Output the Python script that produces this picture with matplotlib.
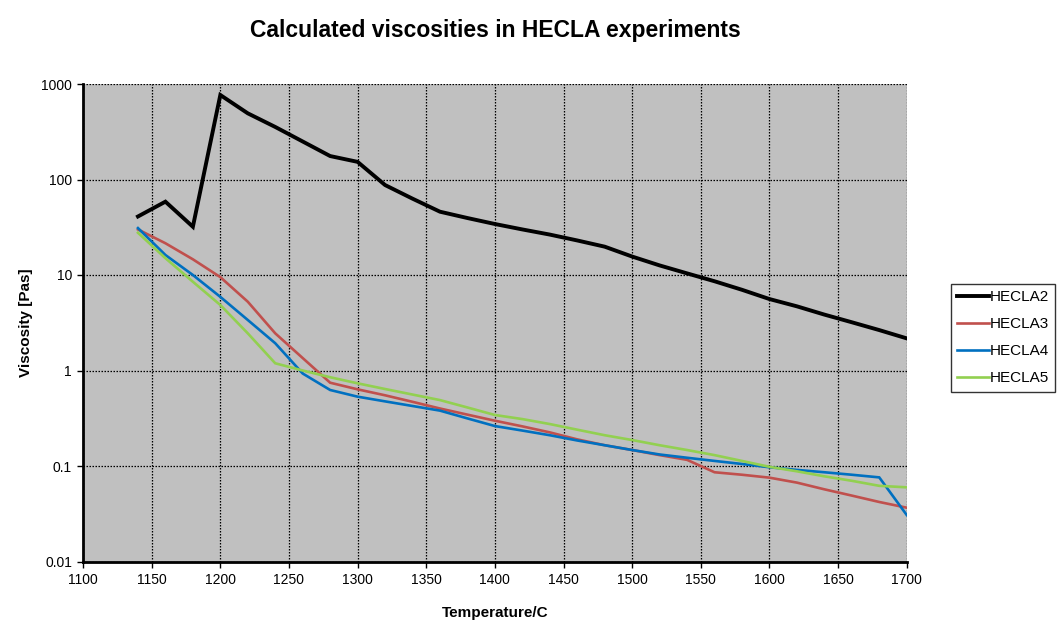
import numpy as np
import matplotlib.pyplot as plt
from matplotlib.ticker import FixedLocator, FixedFormatter, NullLocator

plt.rcParams['font.family'] = ['Liberation Sans', 'DejaVu Sans']

# temperatures in C
temp = [1140, 1160, 1180, 1200, 1220, 1240, 1260, 1280, 1300, 1320, 1340, 1360,
        1380, 1400, 1420, 1440, 1460, 1480, 1500, 1520, 1540, 1560, 1580, 1600,
        1620, 1640, 1660, 1680, 1700]

hecla2 = [41, 58.6, 32, 767, 493, 355, 250, 176, 153, 87.5, 63, 46,
          39.5, 34.2, 30, 26.5, 23, 19.8, 15.6, 12.6, 10.4, 8.6, 7.0, 5.6,
          4.7, 3.85, 3.2, 2.65, 2.17]
hecla3 = [30, 21.5, 14.6, 9.5, 5.25, 2.45, 1.35, 0.745, 0.635, 0.55, 0.47, 0.40,
          0.345, 0.298, 0.26, 0.225, 0.19, 0.165, 0.147, 0.13, 0.116, 0.086, 0.081, 0.0755,
          0.067, 0.057, 0.049, 0.042, 0.0366]
hecla4 = [31, 16.2, 10, 5.9, 3.38, 1.93, 0.93, 0.625, 0.532, 0.475, 0.425, 0.38,
          0.315, 0.262, 0.235, 0.21, 0.185, 0.165, 0.147, 0.132, 0.122, 0.113, 0.105, 0.097,
          0.091, 0.086, 0.081, 0.076, 0.0307]
hecla5 = [27.7, 15, 8.5, 4.85, 2.45, 1.19, 1.0, 0.85, 0.734, 0.64, 0.56, 0.49,
          0.41, 0.342, 0.31, 0.275, 0.24, 0.21, 0.187, 0.165, 0.147, 0.13, 0.113, 0.098,
          0.088, 0.078, 0.07, 0.062, 0.0598]

series = [("HECLA2", hecla2, "#000000", 2.8),
          ("HECLA3", hecla3, "#C0504D", 1.9),
          ("HECLA4", hecla4, "#0070C0", 1.9),
          ("HECLA5", hecla5, "#92D050", 1.9)]

fig = plt.figure(figsize=(10.58, 6.25), dpi=100)
ax = fig.add_axes([0.0785, 0.1016, 0.7785, 0.764])
ax.set_facecolor("#C0C0C0")

for name, vals, col, lw in series:
    ax.plot(temp, vals, color=col, lw=lw, label=name, solid_joinstyle='miter')

ax.set_yscale('log')
ax.set_xlim(1100, 1700)
ax.set_ylim(0.01, 1000)
ax.set_xticks(np.arange(1100, 1701, 50))
yt = [0.01, 0.1, 1, 10, 100, 1000]
ax.yaxis.set_major_locator(FixedLocator(yt))
ax.yaxis.set_major_formatter(FixedFormatter(["0.01", "0.1", "1", "10", "100", "1000"]))
ax.yaxis.set_minor_locator(NullLocator())
ax.tick_params(labelsize=10, direction='out', length=4, width=1, pad=4)

ax.grid(True, color='black', linestyle=(0, (1.2, 1.2)), lw=0.9)
ax.set_axisbelow(True)
for s in ['top', 'right']:
    ax.spines[s].set_visible(False)
for s in ['left', 'bottom']:
    ax.spines[s].set_linewidth(2)

fig.text(0.0785 + 0.7785 / 2, 1 - 37 / 625, "Calculated viscosities in HECLA experiments",
         fontsize=16.5, fontweight='bold', ha='center', va='baseline')
ax.set_xlabel("Temperature/C", fontsize=11, fontweight='bold', labelpad=14)
ax.set_ylabel("Viscosity [Pas]", fontsize=11, fontweight='bold', labelpad=6)

leg = fig.legend(loc='upper left', bbox_to_anchor=(0.899, 0.545), fontsize=11,
                 frameon=True, fancybox=False, edgecolor='black',
                 handlelength=2.1, handletextpad=0.0, labelspacing=0.85,
                 borderpad=0.4, borderaxespad=0)
leg.get_frame().set_linewidth(1)

fig.savefig("out.png", dpi=100)
